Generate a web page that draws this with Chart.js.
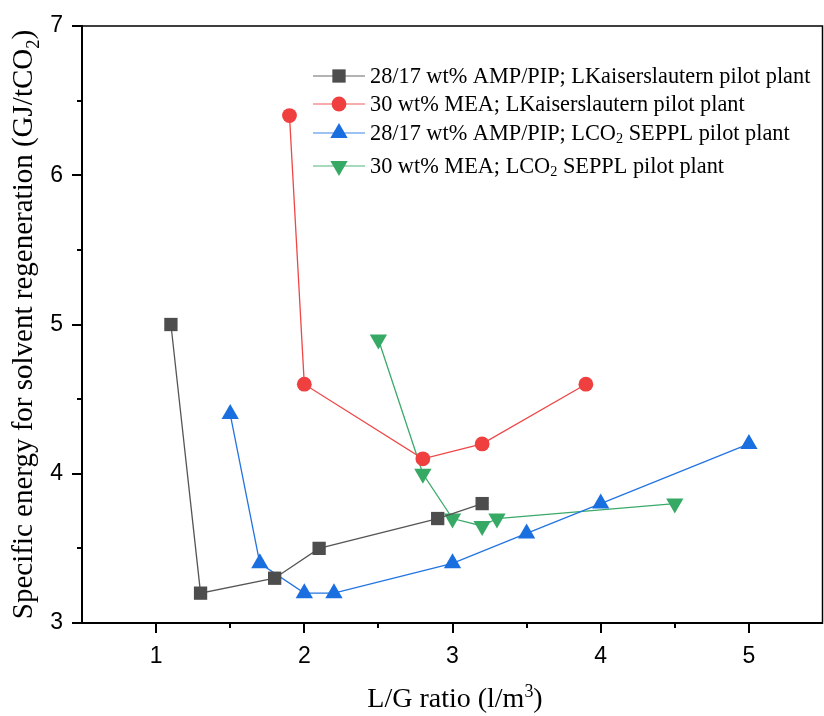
<!DOCTYPE html>
<html>
<head>
<meta charset="utf-8">
<title>Specific energy vs L/G ratio</title>
<script src="https://cdn.jsdelivr.net/npm/chart.js@4/dist/chart.umd.min.js"></script>
<style>
  html, body { margin: 0; padding: 0; background: #fff; }
  canvas { display: block; }
</style>
</head>
<body>
<canvas id="chart" width="824" height="716"></canvas>
<script>
// L/G ratio (l/m3) vs specific energy (GJ/tCO2)
const ampKlX = [1.1, 1.3, 1.8, 2.1, 2.9, 3.2];
const ampKlY = [5.0, 3.2, 3.3, 3.5, 3.7, 3.8];

const meaKlX = [1.9, 2.0, 2.8, 3.2, 3.9];
const meaKlY = [6.4, 4.6, 4.1, 4.2, 4.6];

const ampSeX = [1.5, 1.7, 2.0, 2.2, 3.0, 3.5, 4.0, 5.0];
const ampSeY = [4.4, 3.4, 3.2, 3.2, 3.4, 3.6, 3.8, 4.2];

const meaSeX = [2.5, 2.8, 3.0, 3.2, 3.3, 4.5];
const meaSeY = [4.9, 4.0, 3.7, 3.65, 3.7, 3.8];

const xTicks = [1, 2, 3, 4, 5];
const yTicks = [3, 4, 5, 6, 7];
const xMinor = [1.5, 2.5, 3.5, 4.5];
const yMinor = [3.5, 4.5, 5.5, 6.5];

// legend entries: plain text parts, 'sub' parts get a subscript
const legendLabels = [
  [{ t: '28/17 wt% AMP/PIP; LKaiserslautern pilot plant' }],
  [{ t: '30 wt% MEA; LKaiserslautern pilot plant' }],
  [{ t: '28/17 wt% AMP/PIP; LCO' }, { t: '2', sub: true }, { t: ' SEPPL pilot plant' }],
  [{ t: '30 wt% MEA; LCO' }, { t: '2', sub: true }, { t: ' SEPPL pilot plant' }]
];

const SERIF = "'Liberation Serif', 'Times New Roman', serif";
const SANS = "'Liberation Sans', Arial, sans-serif";

const pts = (xs, ys) => xs.map((x, i) => ({ x, y: ys[i] }));

const datasets = [
  {
    label: '28/17 wt% AMP/PIP; LKaiserslautern pilot plant',
    data: pts(ampKlX, ampKlY),
    borderColor: '#555555', backgroundColor: '#4d4d4d',
    pointStyle: 'rect', pointRadius: 9.4, rotation: 0
  },
  {
    label: '30 wt% MEA; LKaiserslautern pilot plant',
    data: pts(meaKlX, meaKlY),
    borderColor: '#ef4646', backgroundColor: '#ef3f3f',
    pointStyle: 'circle', pointRadius: 7.4, rotation: 0
  },
  {
    label: '28/17 wt% AMP/PIP; LCO2 SEPPL pilot plant',
    data: pts(ampSeX, ampSeY),
    borderColor: '#2274e2', backgroundColor: '#1a6fe0',
    pointStyle: 'triangle', pointRadius: 10, rotation: 0
  },
  {
    label: '30 wt% MEA; LCO2 SEPPL pilot plant',
    data: pts(meaSeX, meaSeY),
    borderColor: '#3aaa6a', backgroundColor: '#36a964',
    pointStyle: 'triangle', pointRadius: 10, rotation: 180
  }
].map(d => Object.assign(d, {
  borderWidth: 1.3,
  pointBorderWidth: 0,
  pointBackgroundColor: d.backgroundColor,
  pointRotation: d.rotation,
  showLine: true,
  tension: 0,
  clip: false
}));

function drawRich(ctx, parts, x, y, size) {
  let cx = x;
  parts.forEach(p => {
    const s = p.sub || p.sup ? size * 0.64 : size;
    ctx.font = s + 'px ' + SERIF;
    const dy = p.sub ? size * 0.24 : p.sup ? -size * 0.36 : 0;
    ctx.fillText(p.t, cx, y + dy);
    cx += ctx.measureText(p.t).width;
  });
  return cx - x;
}

function richWidth(ctx, parts, size) {
  let w = 0;
  parts.forEach(p => {
    const s = p.sub || p.sup ? size * 0.64 : size;
    ctx.font = s + 'px ' + SERIF;
    w += ctx.measureText(p.t).width;
  });
  return w;
}

// keep the plot box fixed: no extra room for overhanging tick labels
function fixPadding(s) {
  s.paddingLeft = 0;
  s.paddingRight = 0;
  s.paddingTop = 0;
  s.paddingBottom = 0;
}

const framePlugin = {
  id: 'frame',
  afterDraw(chart) {
    const { ctx, chartArea: a, scales: { x, y } } = chart;
    ctx.save();
    ctx.strokeStyle = '#000';

    // thin box round the plot, heavier axis lines left and bottom
    ctx.lineWidth = 1.5;
    ctx.strokeRect(a.left, a.top, a.right - a.left - 0.5, a.bottom - a.top);
    ctx.lineWidth = 2;
    ctx.beginPath();
    ctx.moveTo(a.left, a.top - 1);
    ctx.lineTo(a.left, a.bottom);
    ctx.lineTo(a.right, a.bottom);
    ctx.stroke();

    // outward tick marks
    ctx.lineWidth = 2;
    ctx.beginPath();
    const xt = xTicks.map(v => [v, 10]).concat(xMinor.map(v => [v, 5]));
    xt.forEach(([v, len]) => {
      const px = Math.round(x.getPixelForValue(v));
      ctx.moveTo(px, a.bottom);
      ctx.lineTo(px, a.bottom + len);
    });
    const yt = yTicks.map(v => [v, 10]).concat(yMinor.map(v => [v, 5]));
    yt.forEach(([v, len]) => {
      const py = Math.round(y.getPixelForValue(v));
      ctx.moveTo(a.left, py);
      ctx.lineTo(a.left - len, py);
    });
    ctx.stroke();

    // axis titles
    ctx.fillStyle = '#000';
    ctx.textBaseline = 'alphabetic';
    ctx.textAlign = 'left';
    const xTitle = [{ t: 'L/G ratio (l/m' }, { t: '3', sup: true }, { t: ')' }];
    const xw = richWidth(ctx, xTitle, 28);
    drawRich(ctx, xTitle, 455 - xw / 2, 707, 28);

    const yTitle = [{ t: 'Specific energy for solvent regeneration (GJ/tCO' }, { t: '2', sub: true }, { t: ')' }];
    const yw = richWidth(ctx, yTitle, 29);
    ctx.save();
    ctx.translate(32, (a.top + a.bottom) / 2);
    ctx.rotate(-Math.PI / 2);
    drawRich(ctx, yTitle, -yw / 2, 0, 29);
    ctx.restore();

    // legend: short line with the marker on it, then the label
    const rows = [76, 104, 133, 166];
    chart.data.datasets.forEach((ds, i) => {
      const ry = rows[i];
      ctx.globalAlpha = 0.6;
      ctx.strokeStyle = ds.borderColor;
      ctx.lineWidth = 1.6;
      ctx.beginPath();
      ctx.moveTo(313, ry);
      ctx.lineTo(365, ry);
      ctx.stroke();
      ctx.globalAlpha = 1;
      ctx.fillStyle = ds.backgroundColor;
      Chart.helpers.drawPoint(ctx, {
        pointStyle: ds.pointStyle,
        rotation: ds.rotation,
        radius: ds.pointRadius,
        borderWidth: 0
      }, 339, ry);
      ctx.fillStyle = '#000';
      ctx.textBaseline = 'middle';
      drawRich(ctx, legendLabels[i], 370, ry + 1, 22.3);
    });
    ctx.restore();
  }
};

new Chart(document.getElementById('chart'), {
  type: 'scatter',
  data: { datasets },
  options: {
    responsive: false,
    devicePixelRatio: 1,
    animation: false,
    layout: { autoPadding: false, padding: { top: 26, right: 1, left: 0, bottom: 0 } },
    plugins: {
      legend: { display: false },
      tooltip: { enabled: false }
    },
    scales: {
      x: {
        type: 'linear',
        min: 0.5,
        max: 5.5,
        afterBuildTicks: s => { s.ticks = xTicks.map(v => ({ value: v })); },
        afterFit: s => { s.height = 93; fixPadding(s); },
        grid: { display: false, drawTicks: false },
        border: { display: false },
        ticks: {
          padding: 20,
          color: '#000',
          maxRotation: 0,
          font: { family: SANS, size: 23 }
        }
      },
      y: {
        type: 'linear',
        min: 3,
        max: 7,
        afterBuildTicks: s => { s.ticks = yTicks.map(v => ({ value: v })); },
        afterFit: s => { s.width = 82; fixPadding(s); },
        grid: { display: false, drawTicks: false },
        border: { display: false },
        ticks: {
          padding: 19,
          color: '#000',
          font: { family: SANS, size: 23 }
        }
      }
    }
  },
  plugins: [framePlugin]
});
</script>
</body>
</html>
